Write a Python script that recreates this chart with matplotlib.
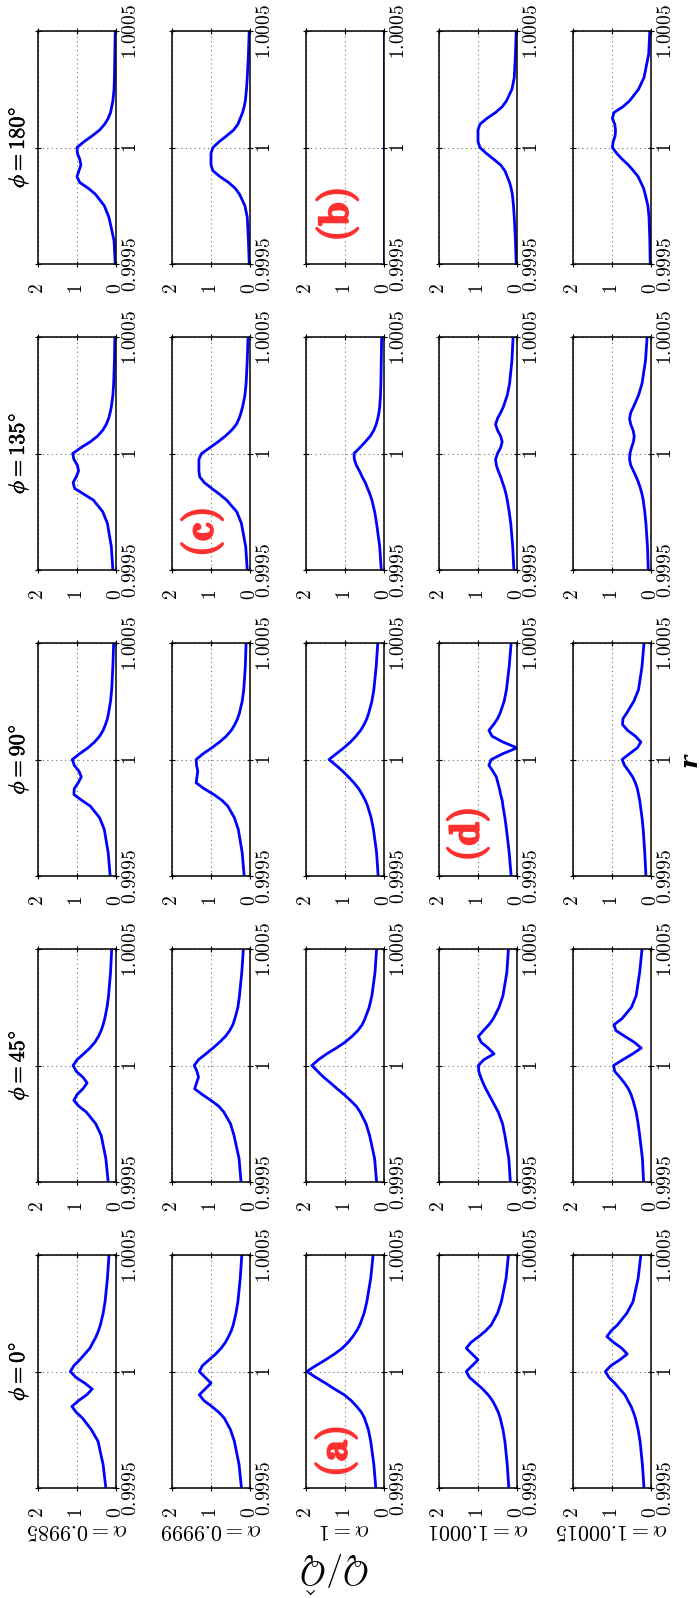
import matplotlib
matplotlib.use('Agg')
import matplotlib.pyplot as plt
import matplotlib.patheffects as pe

plt.rcParams['mathtext.fontset'] = 'cm'
plt.rcParams['font.family'] = ['DejaVu Serif']

# ---------------- data ----------------
r_vals = [0.9995, 0.9996, 0.9997, 0.99975, 0.9998, 0.999825, 0.99985, 0.999875,
          0.9999, 0.999925, 0.99995, 0.999975, 1.0, 1.000025, 1.00005, 1.000075,
          1.0001, 1.000125, 1.00015, 1.000175, 1.0002, 1.00025, 1.0003, 1.0004, 1.0005]

alpha_labels = ['0.9985', '0.9999', '1', '1.0001', '1.00015']
phi_labels = ['0', '45', '90', '135', '180']
r_ticks = [0.9995, 1.0, 1.0005]
r_ticklabels = ['0.9995', '1', '1.0005']
q_ticks = [0, 1, 2]
q_ticklabels = ['0', '1', '2']

# alpha = 0.9985
q_a0_p0 = [0.26, 0.33, 0.46, 0.63, 0.86, 1.02, 1.13, 0.96, 0.75, 0.61, 0.80, 1.03, 1.17, 1.08, 0.93, 0.80, 0.67, 0.59, 0.51, 0.45, 0.40, 0.33, 0.28, 0.22, 0.18]
q_a0_p45 = [0.20, 0.26, 0.38, 0.52, 0.76, 0.95, 1.08, 1.00, 0.85, 0.74, 0.85, 1.02, 1.10, 1.00, 0.83, 0.67, 0.54, 0.45, 0.38, 0.33, 0.29, 0.23, 0.19, 0.14, 0.11]
q_a0_p90 = [0.15, 0.20, 0.30, 0.42, 0.66, 0.88, 1.08, 1.07, 0.97, 0.89, 0.95, 1.07, 1.12, 0.93, 0.72, 0.55, 0.42, 0.33, 0.27, 0.22, 0.19, 0.14, 0.11, 0.08, 0.06]
q_a0_p135 = [0.08, 0.12, 0.22, 0.34, 0.58, 0.82, 1.06, 1.10, 1.02, 0.96, 0.99, 1.08, 1.11, 0.90, 0.66, 0.47, 0.34, 0.25, 0.19, 0.15, 0.12, 0.08, 0.06, 0.04, 0.03]
q_a0_p180 = [0.02, 0.05, 0.18, 0.30, 0.53, 0.71, 0.93, 1.00, 0.95, 0.90, 0.93, 0.99, 1.00, 0.82, 0.61, 0.42, 0.29, 0.20, 0.14, 0.11, 0.08, 0.05, 0.04, 0.03, 0.02]

# alpha = 0.9999
q_a1_p0 = [0.22, 0.28, 0.40, 0.50, 0.66, 0.80, 0.98, 1.18, 1.30, 1.15, 1.00, 1.15, 1.30, 1.22, 1.05, 0.88, 0.74, 0.63, 0.55, 0.48, 0.43, 0.36, 0.31, 0.25, 0.21]
q_a1_p45 = [0.23, 0.28, 0.41, 0.50, 0.67, 0.80, 1.00, 1.22, 1.42, 1.37, 1.32, 1.36, 1.43, 1.32, 1.13, 0.95, 0.78, 0.63, 0.52, 0.44, 0.39, 0.31, 0.27, 0.21, 0.17]
q_a1_p90 = [0.15, 0.20, 0.30, 0.40, 0.57, 0.72, 0.93, 1.18, 1.38, 1.36, 1.34, 1.37, 1.38, 1.20, 0.98, 0.78, 0.61, 0.48, 0.39, 0.32, 0.27, 0.20, 0.16, 0.12, 0.10]
q_a1_p135 = [0.07, 0.11, 0.22, 0.34, 0.60, 0.78, 0.98, 1.17, 1.29, 1.31, 1.31, 1.31, 1.24, 1.03, 0.82, 0.63, 0.47, 0.35, 0.28, 0.23, 0.19, 0.13, 0.10, 0.07, 0.05]
q_a1_p180 = [0.02, 0.04, 0.07, 0.13, 0.27, 0.38, 0.55, 0.77, 0.95, 1.00, 1.00, 1.00, 0.95, 0.79, 0.60, 0.42, 0.31, 0.25, 0.19, 0.15, 0.12, 0.09, 0.07, 0.04, 0.02]

# alpha = 1
q_a2_p0 = [0.21, 0.26, 0.34, 0.40, 0.50, 0.58, 0.70, 0.84, 1.02, 1.27, 1.50, 1.75, 1.98, 1.75, 1.50, 1.27, 1.07, 0.92, 0.80, 0.70, 0.62, 0.51, 0.44, 0.34, 0.28]
q_a2_p45 = [0.19, 0.24, 0.37, 0.46, 0.61, 0.71, 0.86, 1.02, 1.20, 1.37, 1.55, 1.70, 1.85, 1.68, 1.47, 1.22, 1.00, 0.82, 0.67, 0.56, 0.49, 0.38, 0.31, 0.23, 0.19]
q_a2_p90 = [0.15, 0.19, 0.27, 0.33, 0.42, 0.48, 0.56, 0.65, 0.77, 0.91, 1.06, 1.23, 1.41, 1.22, 1.03, 0.86, 0.72, 0.60, 0.51, 0.44, 0.39, 0.31, 0.26, 0.20, 0.16]
q_a2_p135 = [0.07, 0.11, 0.19, 0.24, 0.31, 0.36, 0.42, 0.48, 0.56, 0.63, 0.71, 0.76, 0.77, 0.62, 0.48, 0.35, 0.26, 0.20, 0.16, 0.13, 0.11, 0.09, 0.08, 0.07, 0.06]
q_a2_p180 = [0.0] * 25

# alpha = 1.0001
q_a3_p0 = [0.21, 0.25, 0.31, 0.36, 0.43, 0.48, 0.55, 0.63, 0.74, 0.88, 1.05, 1.22, 1.30, 1.15, 1.00, 1.15, 1.30, 1.18, 0.98, 0.80, 0.66, 0.50, 0.40, 0.28, 0.22]
q_a3_p45 = [0.17, 0.21, 0.31, 0.37, 0.48, 0.56, 0.64, 0.72, 0.80, 0.87, 0.93, 0.98, 0.99, 0.85, 0.59, 0.74, 0.92, 0.99, 0.86, 0.72, 0.61, 0.46, 0.36, 0.26, 0.22]
q_a3_p90 = [0.15, 0.20, 0.27, 0.31, 0.36, 0.38, 0.42, 0.45, 0.49, 0.53, 0.62, 0.72, 0.66, 0.36, 0.00, 0.36, 0.64, 0.72, 0.60, 0.50, 0.43, 0.33, 0.27, 0.20, 0.15]
q_a3_p135 = [0.08, 0.11, 0.16, 0.20, 0.25, 0.28, 0.32, 0.37, 0.42, 0.48, 0.53, 0.55, 0.50, 0.42, 0.38, 0.42, 0.50, 0.55, 0.50, 0.42, 0.35, 0.25, 0.19, 0.13, 0.10]
q_a3_p180 = [0.02, 0.04, 0.07, 0.09, 0.12, 0.15, 0.19, 0.25, 0.31, 0.42, 0.60, 0.79, 0.95, 1.00, 1.00, 1.00, 0.95, 0.77, 0.55, 0.38, 0.27, 0.13, 0.07, 0.04, 0.02]

# alpha = 1.00015
q_a4_p0 = [0.18, 0.22, 0.28, 0.33, 0.40, 0.45, 0.51, 0.59, 0.67, 0.80, 0.93, 1.08, 1.17, 1.03, 0.80, 0.61, 0.75, 0.96, 1.13, 1.02, 0.86, 0.62, 0.46, 0.33, 0.26]
q_a4_p45 = [0.19, 0.22, 0.29, 0.33, 0.38, 0.42, 0.46, 0.51, 0.58, 0.68, 0.80, 0.93, 0.96, 0.72, 0.47, 0.25, 0.43, 0.67, 0.90, 0.95, 0.75, 0.50, 0.38, 0.29, 0.23]
q_a4_p90 = [0.13, 0.16, 0.20, 0.23, 0.27, 0.29, 0.32, 0.35, 0.40, 0.47, 0.57, 0.68, 0.74, 0.55, 0.35, 0.26, 0.40, 0.60, 0.73, 0.72, 0.62, 0.44, 0.32, 0.23, 0.18]
q_a4_p135 = [0.07, 0.09, 0.13, 0.16, 0.20, 0.23, 0.27, 0.32, 0.38, 0.45, 0.52, 0.55, 0.54, 0.50, 0.45, 0.43, 0.46, 0.52, 0.55, 0.52, 0.45, 0.32, 0.23, 0.14, 0.10]
q_a4_p180 = [0.02, 0.03, 0.05, 0.08, 0.15, 0.19, 0.26, 0.33, 0.45, 0.58, 0.74, 0.88, 0.99, 0.97, 0.92, 0.91, 0.93, 0.99, 0.95, 0.72, 0.55, 0.32, 0.18, 0.06, 0.03]

series = [
    [q_a0_p0, q_a0_p45, q_a0_p90, q_a0_p135, q_a0_p180],
    [q_a1_p0, q_a1_p45, q_a1_p90, q_a1_p135, q_a1_p180],
    [q_a2_p0, q_a2_p45, q_a2_p90, q_a2_p135, q_a2_p180],
    [q_a3_p0, q_a3_p45, q_a3_p90, q_a3_p135, q_a3_p180],
    [q_a4_p0, q_a4_p45, q_a4_p90, q_a4_p135, q_a4_p180],
]

# panel labels: (column, row, text)
panel_tags = [(2, 0, '(a)'), (2, 4, '(b)'), (1, 3, '(c)'), (3, 2, '(d)')]
tag_pos = {'(a)': (0.385, 0.155), '(b)': (0.40, 0.21), '(c)': (0.385, 0.16), '(d)': (0.37, 0.176)}

# ---------------- layout (figure is drawn rotated) ----------------
W, H = 700, 1598
fig = plt.figure(figsize=(W / 100, H / 100), dpi=100)
col_left = [38, 172, 306, 439, 573]
row_bottom = [1488, 1182, 876, 570, 264]
pw, ph = 78, 233

axes = {}
for c in range(5):
    for k in range(5):
        L, B = col_left[c], row_bottom[k]
        ax = fig.add_axes([L / W, 1 - B / H, pw / W, ph / H])
        axes[(c, k)] = ax
        ax.plot(series[c][k], r_vals, color='#0000ff', lw=2.0,
                solid_joinstyle='round', solid_capstyle='round')
        ax.set_xlim(2, 0)
        ax.set_ylim(r_ticks[0], r_ticks[-1])
        ax.set_xticks(q_ticks)
        ax.set_xticklabels(['$%s$' % t for t in q_ticklabels], rotation=90,
                           ha='center', va='top')
        ax.set_yticks(r_ticks)
        ax.set_yticklabels(['$%s$' % t for t in r_ticklabels], rotation=90,
                           va='center', ha='left')
        ax.grid(True, ls=(0, (1, 3)), color='0.45', lw=0.8)
        ax.tick_params(direction='inout', length=4, width=0.8,
                       top=True, bottom=True, left=True, right=True,
                       labelsize=14)
        ax.tick_params(axis='x', pad=12)
        ax.tick_params(axis='y', labelleft=False, labelright=True, pad=2)
        for s in ax.spines.values():
            s.set_linewidth(1.1)

# alpha labels (upside down, below each column)
for c in range(5):
    xc = (col_left[c] + pw / 2) / W
    fig.text(xc, 1 - 1530 / H, r'$\alpha = \mathbf{%s}$' % alpha_labels[c],
             rotation=180, ha='center', va='center', fontsize=16)

# phi titles (left of each row)
for k in range(5):
    yc = 1 - (row_bottom[k] - ph / 2) / H
    fig.text(18 / W, yc, r'$\phi = \mathbf{%s}^{\circ}$' % phi_labels[k],
             rotation=90, ha='center', va='center', fontsize=16,
             path_effects=[pe.withStroke(linewidth=0.4, foreground='black')])

# axis labels
fig.text(690 / W, 1 - 760 / H, 'r', rotation=90, ha='center', va='center',
         fontsize=18, fontweight='bold', fontstyle='italic', family='DejaVu Serif')
fig.text(335 / W, 1 - 1572 / H, r'$Q/\hat{Q}$', rotation=180, ha='center',
         va='center', fontsize=24)

# red panel tags
for c, k, t in panel_tags:
    x, y = tag_pos[t]
    axes[(c, k)].text(x, y, r'$\mathbf{%s}$' % t, transform=axes[(c, k)].transAxes,
                      rotation=90, ha='center', va='center', color='#ff3030',
                      fontsize=30, zorder=5,
                      path_effects=[pe.withStroke(linewidth=1.6, foreground='#ff3030')])

fig.savefig('out.png', dpi=100)
